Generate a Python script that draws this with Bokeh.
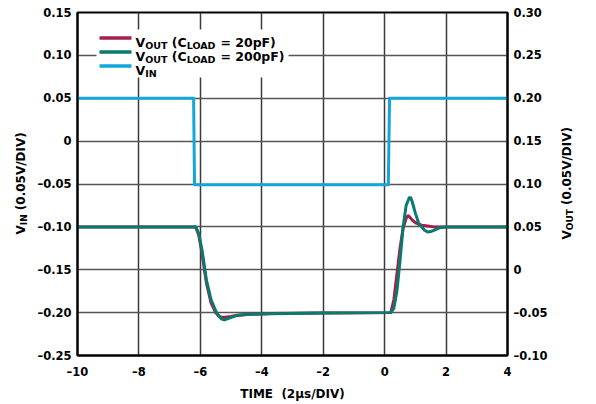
import math
from bokeh.plotting import figure
from bokeh.models import Range1d, LinearAxis, FixedTicker, CustomJSTickFormatter, Label
from bokeh.core.properties import value
from bokeh.embed import file_html
from bokeh.resources import INLINE

# ---------------- data ----------------
x_ticks = [-10, -8, -6, -4, -2, 0, 2, 4]
vin_ticks = [-0.25, -0.20, -0.15, -0.10, -0.05, 0.0, 0.05, 0.10, 0.15]
vout_ticks = [-0.10, -0.05, 0.0, 0.05, 0.10, 0.15, 0.20, 0.25, 0.30]

# V_IN (left axis, V)
t_in = [-10.0, -6.22, -6.19, 0.12, 0.16, 4.0]
v_in = [0.05, 0.05, -0.051, -0.051, 0.05, 0.05]

# V_OUT, C_LOAD = 20pF (right axis, V)
t_out20 = [-10.0, -6.15, -6.05, -5.95, -5.8, -5.65, -5.5, -5.4, -5.3, -5.2, -5.0, -4.8,
           -4.4, -3.7, -2.0, 0.2, 0.3, 0.4, 0.5, 0.6, 0.7, 0.76, 0.8, 0.9, 1.0, 1.1,
           1.2, 1.4, 1.6, 2.0, 4.0]
v_out20 = [0.05, 0.05, 0.04, 0.02, -0.016, -0.039, -0.05, -0.054, -0.0555, -0.0555, -0.0545, -0.053,
           -0.052, -0.051, -0.0505, -0.05, -0.035, -0.005, 0.025, 0.048, 0.06, 0.063, 0.062, 0.058, 0.055, 0.053,
           0.052, 0.051, 0.05, 0.05, 0.05]

# V_OUT, C_LOAD = 200pF (right axis, V)
t_out200 = [-10.0, -6.15, -6.05, -5.95, -5.8, -5.65, -5.5, -5.4, -5.3, -5.22, -5.1, -4.8,
            -4.4, -3.7, -2.0, 0.2, 0.3, 0.4, 0.5, 0.6, 0.7, 0.8, 0.85, 0.9, 1.0, 1.1,
            1.2, 1.3, 1.4, 1.5, 1.6, 1.8, 2.0, 4.0]
v_out200 = [0.05, 0.05, 0.042, 0.024, -0.0125, -0.035, -0.048, -0.054, -0.0575, -0.0585, -0.057, -0.0533,
            -0.052, -0.0514, -0.0505, -0.05, -0.045, -0.025, 0.01, 0.05, 0.075, 0.084, 0.084, 0.079, 0.066, 0.055,
            0.0505, 0.046, 0.044, 0.0445, 0.046, 0.049, 0.05, 0.05]

RED = "#a3204a"
TEAL = "#0b7a6e"
BLUE = "#12a6dc"
FONT = "DejaVu Sans"

XMIN, XMAX = -10, 4
YMIN, YMAX = -0.25, 0.15
Y2MIN, Y2MAX = -0.10, 0.30

W, H = 596, 404
FL, FR, FT, FB = 77, 89, 12, 49
FW, FH = W - FL - FR, H - FT - FB

p = figure(width=W, height=H, output_backend="svg", toolbar_location=None,
           x_range=Range1d(XMIN, XMAX), y_range=Range1d(YMIN, YMAX),
           min_border_left=FL, min_border_right=FR, min_border_top=FT, min_border_bottom=FB,
           background_fill_color="white", border_fill_color="white")
p.extra_y_ranges = {"out": Range1d(Y2MIN, Y2MAX)}
p.outline_line_color = "black"
p.outline_line_width = 2


def px2x(px):  # page pixel -> data x
    return XMIN + (px - FL) / FW * (XMAX - XMIN)


def py2y(py):  # page pixel -> left-axis data y
    return YMAX - (py - FT) / FH * (YMAX - YMIN)


fmt_x = CustomJSTickFormatter(code="""
    const v = Math.round(tick);
    return v < 0 ? "\u2013" + (-v) : "" + v;""")
fmt_y = CustomJSTickFormatter(code="""
    if (Math.abs(tick) < 1e-9) return "0";
    return tick < 0 ? "\u2013" + (-tick).toFixed(2) : tick.toFixed(2);""")


def style_axis(ax, standoff=6):
    ax.major_label_text_font = FONT
    ax.major_label_text_font_style = "bold"
    ax.major_label_text_font_size = "11.5px"
    ax.major_label_text_color = "black"
    ax.major_tick_in = 0
    ax.major_tick_out = 0
    ax.minor_tick_in = 0
    ax.minor_tick_out = 0
    ax.axis_line_color = "black"
    ax.axis_line_width = 2
    ax.major_label_standoff = standoff


p.xaxis.ticker = FixedTicker(ticks=x_ticks)
p.xaxis.formatter = fmt_x
p.yaxis.ticker = FixedTicker(ticks=vin_ticks)
p.yaxis.formatter = fmt_y
style_axis(p.xaxis[0], standoff=9)
style_axis(p.yaxis[0])
p.xaxis.axis_label = "TIME \u00a0(2\u00b5s/DIV)"
p.xaxis.axis_label_text_font = FONT
p.xaxis.axis_label_text_font_style = "bold"
p.xaxis.axis_label_text_font_size = "12px"
p.xaxis.axis_label_text_color = "black"
p.xaxis.axis_label_standoff = 5

rax = LinearAxis(y_range_name="out", ticker=FixedTicker(ticks=vout_ticks), formatter=fmt_y)
style_axis(rax)
p.add_layout(rax, "right")

p.xgrid.ticker = FixedTicker(ticks=x_ticks)
p.ygrid.ticker = FixedTicker(ticks=vin_ticks)
p.xgrid.grid_line_color = "#3a3a3a"
p.ygrid.grid_line_color = "#555555"
p.xgrid.grid_line_width = 1.5
p.ygrid.grid_line_width = 1.5

# legend background (hides grid behind the legend)
p.quad(left=[px2x(96)], right=[px2x(288)], top=[py2y(29)], bottom=[py2y(77)],
       fill_color="white", line_color=None)

# traces
p.line(t_in, v_in, line_color=BLUE, line_width=3, line_join="round")
p.line(t_out20, v_out20, line_color=RED, line_width=3, line_join="round", y_range_name="out")
p.line(t_out200, v_out200, line_color=TEAL, line_width=3, line_join="round", y_range_name="out")

# ---------------- text helpers ----------------
CW = {" ": 0.348, "(": 0.457, ")": 0.457, ".": 0.380, "/": 0.364, "=": 0.838,
      "A": 0.774, "C": 0.734, "D": 0.830, "F": 0.683, "I": 0.372, "L": 0.637, "N": 0.837,
      "O": 0.850, "T": 0.684, "U": 0.812, "V": 0.774, "p": 0.716}


def twidth(s, size):
    return sum(CW.get(c, 0.696) for c in s) * size


def rich(xp, yp, pieces, main=12.5, sub=9.5, drop=3.5):
    adv = 0.0
    for txt, is_sub in pieces:
        size = sub if is_sub else main
        lead = len(txt) - len(txt.lstrip(" "))
        adv += twidth(" " * lead, size)
        body = txt.lstrip(" ")
        shift = drop if is_sub else 0.0
        p.add_layout(Label(x=px2x(xp + adv), y=py2y(yp + shift), text=body,
                           text_font=FONT, text_font_style="bold", text_font_size=f"{size}px",
                           text_color="black", text_align="left", text_baseline="alphabetic"))
        adv += twidth(body, size)


# legend
legend_rows = [
    (RED, [("V", False), ("OUT", True), (" (C", False), ("LOAD", True), (" = 20pF)", False)]),
    (TEAL, [("V", False), ("OUT", True), (" (C", False), ("LOAD", True), (" = 200pF)", False)]),
    (BLUE, [("V", False), ("IN", True)]),
]
for i, (col, pieces) in enumerate(legend_rows):
    ly = 37.5 + 14 * i
    p.segment(x0=[px2x(99)], x1=[px2x(131)], y0=[py2y(ly)], y1=[py2y(ly)],
              line_color=col, line_width=3.5)
    rich(135, ly + 4.0, pieces)

# ---------------- overlay for the vertical axis titles ----------------
q = figure(width=W, height=H, output_backend="svg", toolbar_location=None,
           x_range=Range1d(0, W), y_range=Range1d(0, H),
           x_axis_type=None, y_axis_type=None,
           min_border_left=0, min_border_right=0, min_border_top=0, min_border_bottom=0,
           styles={"position": "absolute", "left": "0px", "top": "0px"})
q.grid.visible = False
q.outline_line_color = None
q.background_fill_alpha = 0
q.border_fill_alpha = 0


def vrich(xp, yp, pieces, main=12, sub=9, drop=3):
    adv = 0.0
    for txt, is_sub in pieces:
        size = sub if is_sub else main
        lead = len(txt) - len(txt.lstrip(" "))
        adv += twidth(" " * lead, size)
        body = txt.lstrip(" ")
        shift = drop if is_sub else 0.0
        q.text(x=[xp + shift], y=[H - (yp - adv)], text=[body], angle=math.pi / 2,
               text_font=value(FONT), text_font_style="bold", text_font_size=value(f"{size}px"),
               text_color="black", text_align="left", text_baseline="alphabetic")
        adv += twidth(body, size)


vrich(20.5, 234, [("V", False), ("IN", True), (" (0.05V/DIV)", False)])
vrich(566.5, 239, [("V", False), ("OUT", True), (" (0.05V/DIV)", False)])

open("out.html", "w").write(file_html([p, q], INLINE))
